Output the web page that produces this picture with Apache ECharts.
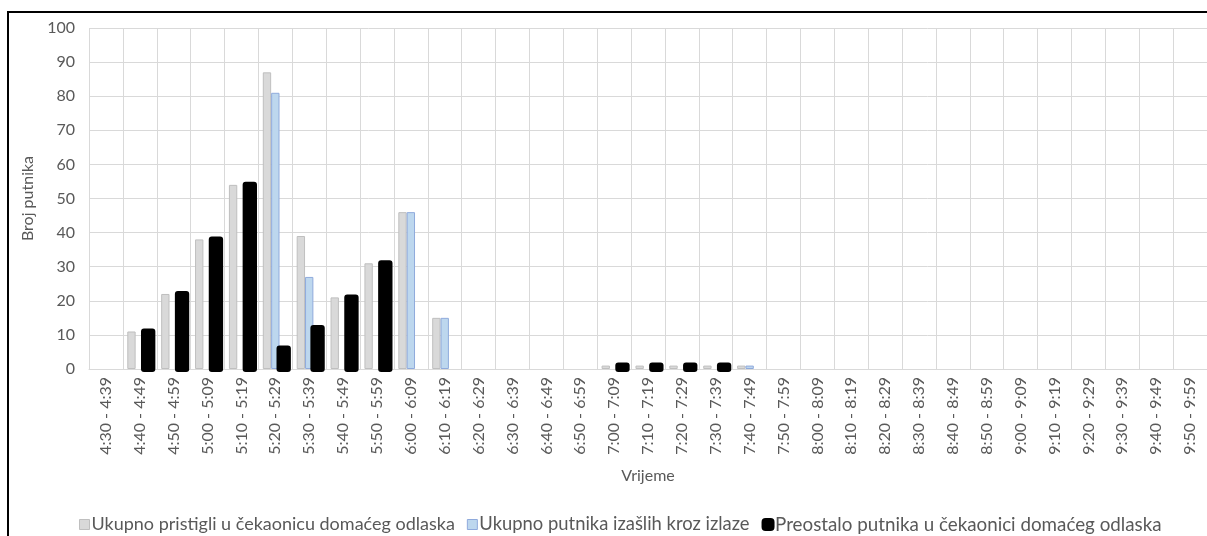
<!DOCTYPE html>
<html>
<head>
<meta charset="utf-8">
<script src="https://cdn.jsdelivr.net/npm/echarts@6/dist/echarts.min.js"></script>
<style>
html,body{margin:0;padding:0;background:#fff;}
#c{width:1207px;height:536px;}
</style>
</head>
<body>
<div id="c"></div>
<script>
var categories = ["4:30 - 4:39","4:40 - 4:49","4:50 - 4:59","5:00 - 5:09","5:10 - 5:19","5:20 - 5:29","5:30 - 5:39","5:40 - 5:49","5:50 - 5:59","6:00 - 6:09","6:10 - 6:19","6:20 - 6:29","6:30 - 6:39","6:40 - 6:49","6:50 - 6:59","7:00 - 7:09","7:10 - 7:19","7:20 - 7:29","7:30 - 7:39","7:40 - 7:49","7:50 - 7:59","8:00 - 8:09","8:10 - 8:19","8:20 - 8:29","8:30 - 8:39","8:40 - 8:49","8:50 - 8:59","9:00 - 9:09","9:10 - 9:19","9:20 - 9:29","9:30 - 9:39","9:40 - 9:49","9:50 - 9:59"];
var arrived = [0,11,22,38,54,87,39,21,31,46,15,0,0,0,0,1,1,1,1,1,0,0,0,0,0,0,0,0,0,0,0,0,0];
var exited = [0,0,0,0,0,81,27,0,0,46,15,0,0,0,0,0,0,0,0,1,0,0,0,0,0,0,0,0,0,0,0,0,0];
var remaining = [0,11,22,38,54,6,12,21,31,0,0,0,0,0,0,1,1,1,1,0,0,0,0,0,0,0,0,0,0,0,0,0,0];
var yTicks = [0,10,20,30,40,50,60,70,80,90,100];
var names = ["Ukupno pristigli u čekaonicu domaćeg odlaska","Ukupno putnika izašlih kroz izlaze","Preostalo putnika u čekaonici domaćeg odlaska"];

var CAT_GAP = 0.26; // fraction of category width left empty
function nz(a){ return a.map(function(v){ return v === 0 ? '-' : v; }); }
var remainingPts = [];
remaining.forEach(function(v, i){ if (v !== 0) remainingPts.push([i, v]); });
var slotHolder = categories.map(function(){ return '-'; });

var FONT = "Lato, 'Open Sans', sans-serif";
var chart = echarts.init(document.getElementById('c'), null, {renderer:'canvas'});
chart.setOption({
  animation:false,
  backgroundColor:'#ffffff',
  textStyle:{fontFamily:FONT},
  graphic:[{type:'rect', shape:{x:8,y:12,width:1400,height:800}, style:{fill:'none', stroke:'#000', lineWidth:2}, silent:true, z:100}],
  grid:{left:89, top:28, width:1121, height:341, containLabel:false},
  legend:{
    top:510, left:74, itemWidth:10, itemHeight:10, itemGap:12,
    textStyle:{fontFamily:FONT, fontSize:18, color:'#595959', padding:[0,0,0,-3]},
    data:[
      {name:names[0], icon:'rect', itemStyle:{color:'#d9d9d9', borderColor:'#bfbfbf', borderWidth:1}},
      {name:names[1], icon:'rect', itemStyle:{color:'#bdd7ee', borderColor:'#8faadc', borderWidth:1}, textStyle:{fontSize:18.4}},
      {name:names[2], icon:'roundRect', itemStyle:{color:'#000', borderColor:'#000', borderWidth:3}, textStyle:{fontSize:18.8}}
    ]
  },
  xAxis:{
    type:'category', data:categories, boundaryGap:true,
    name:'Vrijeme', nameLocation:'middle', nameGap:99,
    nameTextStyle:{fontFamily:FONT, fontSize:16, color:'#595959'},
    axisLine:{show:true, lineStyle:{color:'#d9d9d9', width:1}},
    axisTick:{show:false},
    axisLabel:{rotate:90, interval:0, margin:8, fontFamily:FONT, fontSize:16, color:'#595959'},
    splitLine:{show:true, interval:0, lineStyle:{color:'#d9d9d9', width:1}}
  },
  yAxis:{
    type:'value', min:0, max:100, interval:10,
    name:'Broj putnika', nameLocation:'middle', nameGap:50,
    nameTextStyle:{fontFamily:FONT, fontSize:16, color:'#595959'},
    axisLine:{show:false}, axisTick:{show:false},
    axisLabel:{margin:14, fontFamily:FONT, fontSize:16, color:'#595959'},
    splitLine:{show:true, lineStyle:{color:'#d9d9d9', width:1}}
  },
  series:[
    {name:names[0], type:'bar', data:nz(arrived), barGap:'0%', barCategoryGap:(CAT_GAP*100)+'%',
     itemStyle:{color:'#d9d9d9', borderColor:'#bfbfbf', borderWidth:1}},
    {name:names[1], type:'bar', data:nz(exited), barGap:'0%', barCategoryGap:(CAT_GAP*100)+'%',
     itemStyle:{color:'#bdd7ee', borderColor:'#8faadc', borderWidth:1}},
    {name:'_slot', type:'bar', data:slotHolder, barGap:'0%', barCategoryGap:(CAT_GAP*100)+'%',
     itemStyle:{color:'transparent'}, silent:true},
    {name:names[2], type:'custom', data:remainingPts,
     itemStyle:{color:'#000'},
     encode:{x:0, y:1},
     renderItem:function(params, api){
       var top = api.coord([api.value(0), api.value(1)]);
       var base = api.coord([api.value(0), 0]);
       var catW = api.size([1, 0])[0];
       var bw = catW * (1 - CAT_GAP) / 3;
       var cx = top[0] + bw; // third slot of the group
       return {
         type:'rect',
         shape:{x: cx - bw/2, y: top[1], width: bw, height: base[1] - top[1]},
         style:{fill:'#000', stroke:'#000', lineWidth:6, lineJoin:'round'},
         z2: 10
       };
     }}
  ]
});
</script>
</body>
</html>
